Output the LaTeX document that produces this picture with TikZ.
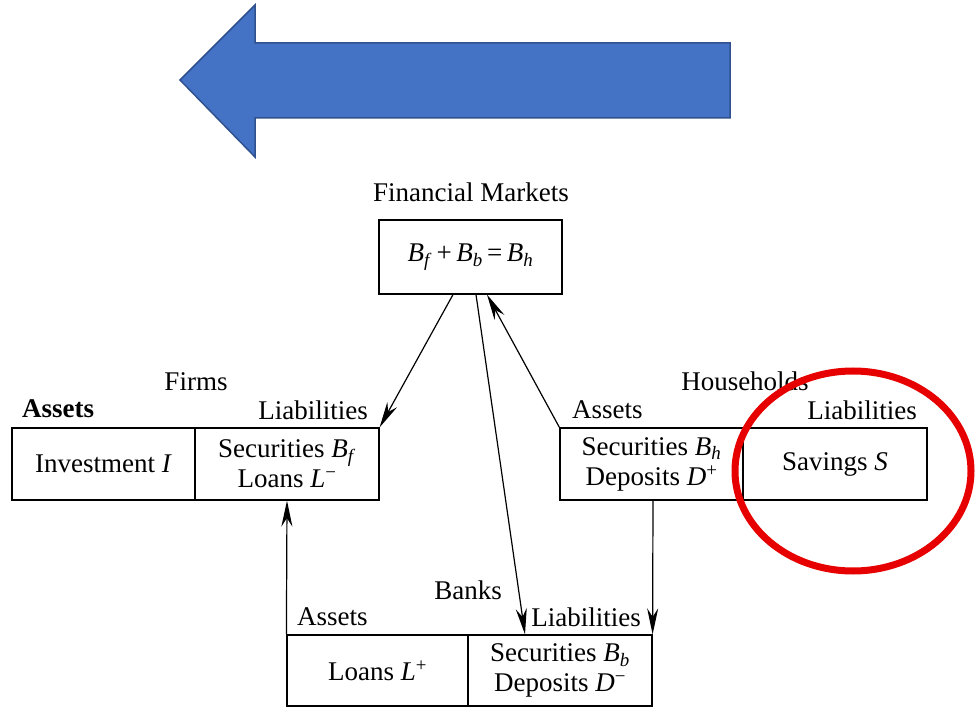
\documentclass[tikz,border=0pt]{standalone}
\usepackage{fontspec}
\setmainfont{Liberation Serif}
\usetikzlibrary{arrows.meta}
\definecolor{circred}{RGB}{230,0,0}
\definecolor{arrblue}{RGB}{68,114,196}
\definecolor{arredge}{RGB}{47,82,143}
\newcommand\mvar[1]{\textit{#1}}
\begin{document}
\begin{tikzpicture}[x=1pt,y=-1pt,
  txt/.style={font=\fontsize{27}{30}\selectfont, inner sep=0pt},
  cell/.style={draw, line width=1.2pt, inner sep=0pt, align=center, font=\fontsize{27}{30}\selectfont},
  arr/.style={line width=1.2pt, -{Stealth[length=26pt,width=11pt]}}]
\useasboundingbox (0,0) rectangle (975,711);
% blue arrow
\path[fill=arrblue, draw=arredge, line width=1.5pt]
  (180,80) -- (255,5) -- (255,43) -- (730,43) -- (730,118) -- (255,118) -- (255,157) -- cycle;
% financial markets
\node[txt] (fmt) at (471,192) {Financial Markets};
\node[cell, minimum width=183pt, minimum height=74pt] (fm) at (470.5,257) {\mvar{B}\textsubscript{\mvar{f}}\,+\,\mvar{B}\textsubscript{\mvar{b}}\,=\,\mvar{B}\textsubscript{\mvar{h}}};
% firms
\node[txt] (firms) at (196,382) {Firms};
\node[txt, anchor=west] (fasset) at (22,409) {\textbf{Assets}};
\node[txt, anchor=east] (fliab) at (368,410) {Liabilities};
\node[cell, minimum width=183pt, minimum height=72pt] (fA) at (103.5,464) {Investment \mvar{I}};
\node[cell, minimum width=184pt, minimum height=72pt] (fL) at (287,464) {Securities \mvar{B}\textsubscript{\mvar{f}}\\Loans \mvar{L}\textsuperscript{−}};
% households
\node[txt] (hh) at (745,381) {Households};
\node[txt, anchor=west] (hasset) at (572,410) {Assets};
\node[txt, anchor=east] (hliab) at (917,410) {Liabilities};
\node[cell, minimum width=183pt, minimum height=72pt] (hA) at (651.5,464) {Securities \mvar{B}\textsubscript{\mvar{h}}\\Deposits \mvar{D}\textsuperscript{+}};
\node[cell, minimum width=184pt, minimum height=72pt] (hL) at (835,464) {Savings \mvar{S}};
% banks
\node[txt] (banks) at (468,590) {Banks};
\node[txt, anchor=west] (basset) at (297,617) {Assets};
\node[txt, anchor=east] (bliab) at (641,617) {Liabilities};
\node[cell, minimum width=181pt, minimum height=71pt] (bA) at (377.5,670.5) {Loans \mvar{L}\textsuperscript{+}};
\node[cell, minimum width=184pt, minimum height=71pt] (bL) at (560,670.5) {Securities \mvar{B}\textsubscript{\mvar{b}}\\Deposits \mvar{D}\textsuperscript{−}};
% connectors
\draw[arr] ([xshift=-17.5pt]fm.south) -- (fL.north east);
\draw[arr] ([xshift=5.5pt]fm.south) -- ([xshift=-35pt]bL.north);
\draw[arr] (hA.north west) -- ([xshift=16.5pt]fm.south);
\draw[arr] (bA.north west) -- (fL.south);
\draw[arr] ([xshift=1.5pt]hA.south) -- (bL.north east);
% red ellipse
\draw[circred, line width=7pt] (853,471) ellipse [x radius=118, y radius=100];
\end{tikzpicture}
\end{document}
